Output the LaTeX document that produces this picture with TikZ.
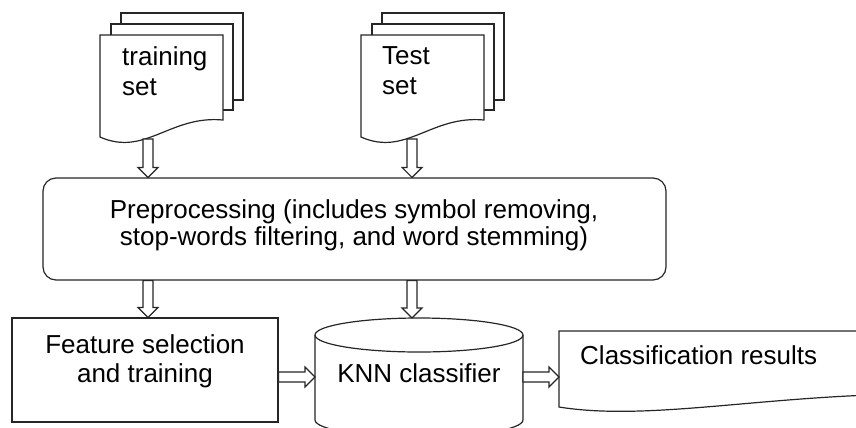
\documentclass[tikz,border=0pt]{standalone}
\usepackage{fontspec}
\setmainfont{Liberation Sans}
\usetikzlibrary{calc}
\begin{document}
\begin{tikzpicture}[x=1bp,y=-1bp,
  shapeline/.style={draw=black!85, line width=1.2bp},
  boxnode/.style={shapeline, fill=white, rectangle, inner sep=0pt},
  txt/.style={inner sep=0pt, text=black},
  hollow/.style={shapeline, fill=white, to path={
    let \p1=(\tikztostart), \p2=(\tikztotarget),
        \n1={atan2(\y2-\y1,\x2-\x1)}, \n2={\n1+90}, \n3={\n1-90}, \n4={\n1+180} in
    ($(\p1)+(\n2:5bp)$) -- ($(\p2)+(\n4:10bp)+(\n2:5bp)$) -- ($(\p2)+(\n4:10bp)+(\n2:10bp)$)
    -- (\p2) -- ($(\p2)+(\n4:10bp)+(\n3:10bp)$) -- ($(\p2)+(\n4:10bp)+(\n3:5bp)$)
    -- ($(\p1)+(\n3:5bp)$) -- cycle}},
  pics/multidoc/.style={code={
    \draw[shapeline, fill=white] (21,-22) rectangle (143,65);
    \draw[shapeline, fill=white] (11,-11) rectangle (133,75);
    \draw[shapeline, fill=white] (0,0) -- (123,0) -- (123,85)
      .. controls (70,80) and (45,122) .. (0,102) -- cycle;
  }}]
\useasboundingbox (0,0) rectangle (856,427);
\clip (0,0) rectangle (856,427);
\fontsize{26bp}{30bp}\selectfont

% document stacks
\pic (train) at (100,35) {multidoc};
\pic (test) at (361,35) {multidoc};
\node[txt, align=left, anchor=north west, font=\fontsize{26bp}{30bp}\selectfont] (traintext) at (122,46) {training\\set};
\node[txt, align=left, anchor=north west, font=\fontsize{26bp}{30bp}\selectfont] (testtext) at (382,46) {Test\\set};
\coordinate (trainB) at (148,139);
\coordinate (testB) at (412,139);

% preprocessing
\node[boxnode, rounded corners=13bp, minimum width=623bp, minimum height=102bp] (pre) at (354.5,229) {};
\node[txt, align=center, anchor=north, font=\fontsize{26bp}{27bp}\selectfont] (pretext) at (354,199)
  {Preprocessing (includes symbol removing,\\stop-words filtering, and word stemming)};

% feature selection
\node[boxnode, minimum width=266bp, minimum height=104bp] (feat) at (145,370) {};
\node[txt, align=center, anchor=north, font=\fontsize{26bp}{29bp}\selectfont] (feattext) at (145,334.5)
  {Feature selection\\and training};

% KNN cylinder
\draw[shapeline, fill=white] (315,335) -- (315,420) arc[start angle=180, end angle=0, x radius=104, y radius=17] -- (523,335);
\draw[shapeline] (419,335) ellipse[x radius=104, y radius=17];
\node[txt, anchor=base] (knn) at (419,382) {KNN classifier};
\coordinate (knnN) at (412,318);
\coordinate (knnW) at (315,377);
\coordinate (knnE) at (523,377);

% classification results document
\draw[shapeline, fill=white] (870,395) -- (870,331) -- (559,331) -- (559,407)
  .. controls (640,420) and (740,400) .. (870,395);
\node[txt, anchor=base west] (res) at (580,364) {Classification results};
\coordinate (resW) at (559,377);

% hollow arrows
\draw[hollow] (trainB) to (trainB |- pre.north);
\draw[hollow] (testB) to (testB |- pre.north);
\draw[hollow] (trainB |- pre.south) to (trainB |- feat.north);
\draw[hollow] (testB |- pre.south) to (knnN);
\draw[hollow] (feat.east |- knnW) to (knnW);
\draw[hollow] (knnE) to (resW);
\end{tikzpicture}
\end{document}
